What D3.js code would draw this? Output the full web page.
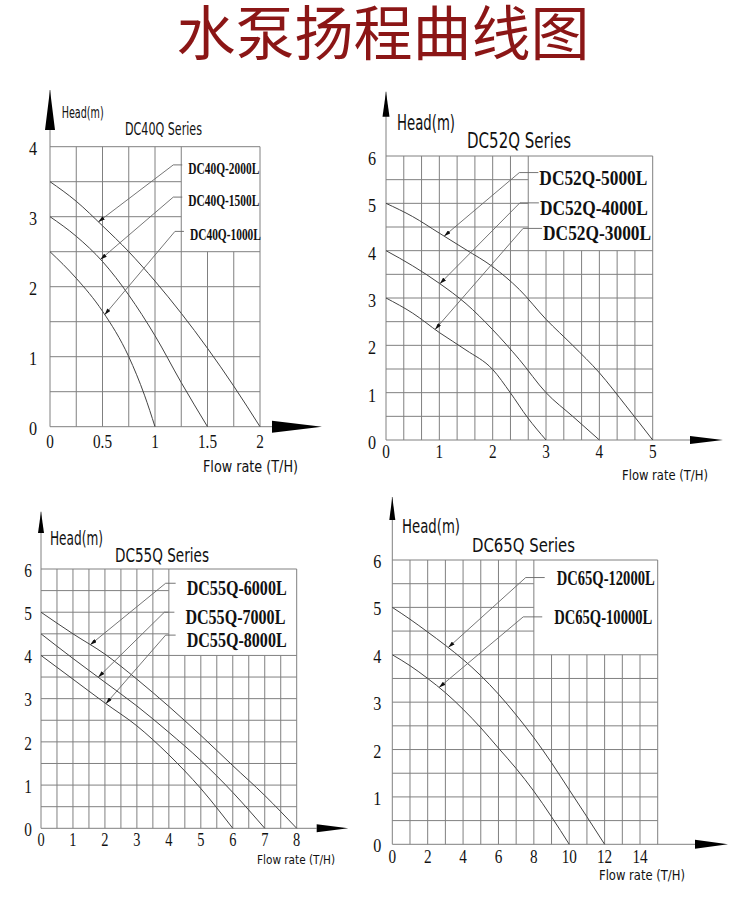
<!DOCTYPE html>
<html>
<head>
<meta charset="utf-8">
<script src="https://cdn.jsdelivr.net/npm/d3@7/dist/d3.min.js"></script>
<style>
  body { margin: 0; background: #fff; }
</style>
</head>
<body>
<div id="chart"></div>
<script>
// ---------- 数据 (流量 T/H, 扬程 m) ----------
const dc40Models = ['DC40Q-2000L', 'DC40Q-1500L', 'DC40Q-1000L']
const dc40q2000 = [[0, 3.5], [0.25, 3.22], [0.5, 2.87], [0.75, 2.5], [1, 2.08], [1.25, 1.62], [1.5, 1.12], [1.75, 0.58], [2, 0]]
const dc40q1500 = [[0, 3], [0.25, 2.72], [0.5, 2.36], [0.75, 1.88], [1, 1.3], [1.25, 0.63], [1.5, 0]]
const dc40q1000 = [[0, 2.5], [0.25, 2.12], [0.5, 1.65], [0.75, 1.0], [0.9, 0.45], [1, 0]]
const dc40XTicks = [0, 0.5, 1, 1.5, 2]
const dc40YTicks = [0, 1, 2, 3, 4]
const dc40PointAt = [0.46, 0.48, 0.52]
const dc40Elbows = [[1.174, 3.74], [1.174, 3.28], [1.19, 2.79]]

const dc52Models = ['DC52Q-5000L', 'DC52Q-4000L', 'DC52Q-3000L']
const dc52q5000 = [[0, 5], [0.5, 4.72], [1, 4.37], [1.5, 4.02], [2, 3.66], [2.5, 3.18], [3, 2.55], [3.5, 2.0], [4, 1.42], [4.5, 0.72], [5, 0]]
const dc52q4000 = [[0, 4], [0.5, 3.68], [1, 3.31], [1.5, 2.88], [2, 2.33], [2.5, 1.7], [3, 1.0], [3.5, 0.5], [4, 0]]
const dc52q3000 = [[0, 3], [0.5, 2.68], [1, 2.27], [1.5, 1.9], [2, 1.49], [2.33, 1.0], [2.65, 0.48], [3, 0]]
const dc52XTicks = [0, 1, 2, 3, 4, 5]
const dc52YTicks = [0, 1, 2, 3, 4, 5, 6]
const dc52PointAt = [1.09, 1.01, 0.92]
const dc52Elbows = [[2.5, 5.65], [2.51, 5.01], [2.57, 4.47]]

const dc55Models = ['DC55Q-6000L', 'DC55Q-7000L', 'DC55Q-8000L']
const dc55q8000 = [[0, 5], [1, 4.5], [2, 4.03], [3, 3.45], [4, 2.82], [5, 2.15], [6, 1.45], [7, 0.76], [8, 0]]
const dc55q7000 = [[0, 4.5], [1, 3.93], [2, 3.38], [3, 2.83], [4, 2.22], [5, 1.57], [6, 0.83], [7, 0]]
const dc55q6000 = [[0, 4], [1, 3.45], [2, 2.9], [3, 2.37], [4, 1.7], [5, 0.92], [6, 0]]
const dc55XTicks = [0, 1, 2, 3, 4, 5, 6, 7, 8]
const dc55YTicks = [0, 1, 2, 3, 4, 5, 6]
const dc55PointAt = [1.54, 1.79, 2.03]
const dc55Elbows = [[3.9, 5.67], [3.86, 5.0], [3.9, 4.47]]

const dc65Models = ['DC65Q-12000L', 'DC65Q-10000L']
const dc65q12000 = [[0, 5], [1, 4.75], [2, 4.48], [3, 4.2], [4, 3.9], [5, 3.56], [6, 3.17], [7, 2.73], [8, 2.25], [9, 1.72], [10, 1.15], [11, 0.58], [12, 0]]
const dc65q10000 = [[0, 4], [1, 3.77], [2, 3.5], [3, 3.2], [4, 2.85], [5, 2.46], [6, 2.03], [7, 1.6], [8, 1.12], [9, 0.58], [10, 0]]
const dc65XTicks = [0, 2, 4, 6, 8, 10, 12, 14]
const dc65YTicks = [0, 1, 2, 3, 4, 5, 6]
const dc65PointAt = [3.16, 2.64]
const dc65Elbows = [[7.54, 5.63], [7.4, 4.8]]

// ---------- 布局 ----------
const W = 750
const H = 918
const gridColor = '#808080'
const curveColor = '#444'
const serif = '"Liberation Serif", "Times New Roman", serif'
const narrow = '"Liberation Sans Narrow", "DejaVu Sans Condensed", "Liberation Sans", sans-serif'

const panels = [
  {
    series: 'DC40Q Series', models: dc40Models, curves: [dc40q2000, dc40q1500, dc40q1000],
    xTicks: dc40XTicks, yTicks: dc40YTicks, pointAt: dc40PointAt, elbows: dc40Elbows,
    left: 50, top: 146.7, width: 210, height: 280, xMax: 2, yMax: 4, xStep: 0.25, yStep: 0.5,
    box: { x: 1.25, y: 2.5 },
    head: { dx: 11.7, dy: -28.7, w: 42, size: 15 },
    title: { dx: 75, dy: -11.7, w: 77, size: 17 },
    flow: { x: 203, dy: 45, w: 95, size: 16 },
    yArrow: { tip: 90, base: 130, hw: 5 },
    xArrow: { x0: 272, x1: 322, hh: 6 },
    yTick: { dx: -17, dy: 8, size: 19 },
    xTick: { dy: 21.6, size: 19 },
    label: { size: 17, w: 71, dx: 15, dy: 9, hlen: 9 }
  },
  {
    series: 'DC52Q Series', models: dc52Models, curves: [dc52q5000, dc52q4000, dc52q3000],
    xTicks: dc52XTicks, yTicks: dc52YTicks, pointAt: dc52PointAt, elbows: dc52Elbows,
    left: 386, top: 156, width: 266.7, height: 284, xMax: 5, yMax: 6, xStep: 1 / 3, yStep: 0.5,
    box: { x: 8 / 3, y: 4 },
    head: { dx: 11, dy: -26, w: 58, size: 21 },
    title: { dx: 81, dy: -7.7, w: 104, size: 21 },
    flow: { x: 622, dy: 40, w: 86, size: 14 },
    yArrow: { tip: 91.7, base: 116.7, hw: 3.5 },
    xArrow: { x0: 690, x1: 723, hh: 4 },
    yTick: { dx: -14, dy: 9, size: 19 },
    xTick: { dy: 18, size: 19 },
    label: { size: 22, w: 108, dx: 20, dy: 12, hlen: 19 }
  },
  {
    series: 'DC55Q Series', models: dc55Models, curves: [dc55q8000, dc55q7000, dc55q6000],
    xTicks: dc55XTicks, yTicks: dc55YTicks, pointAt: dc55PointAt, elbows: dc55Elbows,
    left: 41, top: 569, width: 255.7, height: 259.3, xMax: 8, yMax: 6, xStep: 0.5, yStep: 0.5,
    box: { x: 4, y: 4 },
    head: { dx: 9, dy: -24, w: 53, size: 19 },
    title: { dx: 74, dy: -7.3, w: 94, size: 19 },
    flow: { x: 257, dy: 35.7, w: 78, size: 13 },
    yArrow: { tip: 511.7, base: 533, hw: 3 },
    xArrow: { x0: 316.7, x1: 348.3, hh: 4 },
    yTick: { dx: -13, dy: 7.7, size: 18 },
    xTick: { dy: 18, size: 18 },
    label: { size: 22, w: 100, dx: 21, dy: 12, hlen: 10 }
  },
  {
    series: 'DC65Q Series', models: dc65Models, curves: [dc65q12000, dc65q10000],
    xTicks: dc65XTicks, yTicks: dc65YTicks, pointAt: dc65PointAt, elbows: dc65Elbows,
    left: 392.3, top: 560, width: 265.4, height: 284.3, xMax: 15, yMax: 6, xStep: 1, yStep: 0.5,
    box: { x: 8, y: 4 },
    head: { dx: 9.7, dy: -26.7, w: 58, size: 20 },
    title: { dx: 79.7, dy: -8.3, w: 103, size: 20 },
    flow: { x: 599, dy: 35.7, w: 86, size: 14 },
    yArrow: { tip: 497, base: 520, hw: 3 },
    xArrow: { x0: 695, x1: 728, hh: 4.5 },
    yTick: { dx: -15, dy: 8, size: 19 },
    xTick: { dy: 19, size: 19 },
    label: { size: 20, w: 98, dx: 31, dy: 7.5, hlen: 19 }
  }
]

const svg = d3.select('#chart')
  .append('svg')
  .attr('width', W)
  .attr('height', H)

const defs = svg.append('defs')
defs.append('marker')
  .attr('id', 'tip')
  .attr('viewBox', '0 0 10 6')
  .attr('refX', 10)
  .attr('refY', 3)
  .attr('markerWidth', 7)
  .attr('markerHeight', 4)
  .attr('markerUnits', 'userSpaceOnUse')
  .attr('orient', 'auto')
  .append('path')
  .attr('d', 'M0,0 L10,3 L0,6 Z')
  .attr('fill', '#111')

// 大标题
svg.append('text')
  .attr('x', 383)
  .attr('y', 55)
  .attr('text-anchor', 'middle')
  .attr('font-family', '"Noto Sans CJK SC", sans-serif')
  .attr('font-size', 59)
  .attr('fill', '#8b1616')
  .text('水泵扬程曲线图')

// 文字横向压缩
function condense(sel, k) {
  sel.each(function () {
    const len = this.getComputedTextLength()
    d3.select(this).attr('textLength', len * k).attr('lengthAdjust', 'spacingAndGlyphs')
  })
}

// 沿曲线插值取扬程
function headAt(curve, q) {
  for (let i = 1; i < curve.length; i++) {
    const [x0, y0] = curve[i - 1]
    const [x1, y1] = curve[i]
    if (q <= x1) return y0 + (y1 - y0) * (q - x0) / (x1 - x0)
  }
  return curve[curve.length - 1][1]
}

panels.forEach(p => {
  const eps = 1e-6
  const x = d3.scaleLinear().domain([0, p.xMax]).range([0, p.width])
  const y = d3.scaleLinear().domain([0, p.yMax]).range([p.height, 0])
  const g = svg.append('g').attr('transform', `translate(${p.left},${p.top})`)

  // 网格 (标签区域留白)
  const xs = d3.range(1, Math.round(p.xMax / p.xStep) + 1).map(i => i * p.xStep)
  const ys = d3.range(1, Math.round(p.yMax / p.yStep) + 1).map(i => i * p.yStep)
  g.append('g').selectAll('line')
    .data(xs)
    .enter().append('line')
    .attr('x1', d => x(d)).attr('x2', d => x(d))
    .attr('y1', d => (d > p.box.x + eps && d < p.xMax - eps) ? y(p.box.y) : y(p.yMax))
    .attr('y2', y(0))
    .attr('stroke', gridColor)
    .attr('stroke-width', 1)
  g.append('g').selectAll('line')
    .data(ys)
    .enter().append('line')
    .attr('y1', d => y(d)).attr('y2', d => y(d))
    .attr('x1', 0)
    .attr('x2', d => (d > p.box.y + eps && d < p.yMax - eps) ? x(p.box.x) : x(p.xMax))
    .attr('stroke', gridColor)
    .attr('stroke-width', 1)

  // 坐标轴
  const yTip = p.yArrow.tip - p.top
  g.append('line')
    .attr('x1', 0).attr('x2', 0)
    .attr('y1', yTip).attr('y2', y(0))
    .attr('stroke', gridColor)
  g.append('line')
    .attr('x1', 0).attr('x2', p.xArrow.x0 - p.left)
    .attr('y1', y(0)).attr('y2', y(0))
    .attr('stroke', gridColor)
  g.append('path')
    .attr('d', `M${-p.yArrow.hw},${p.yArrow.base - p.top} L0,${yTip} L${p.yArrow.hw},${p.yArrow.base - p.top} Z`)
    .attr('fill', '#000')
  const ax0 = p.xArrow.x0 - p.left
  const ax1 = p.xArrow.x1 - p.left
  g.append('path')
    .attr('d', `M${ax0},${y(0) - p.xArrow.hh} L${ax1},${y(0)} L${ax0},${y(0) + p.xArrow.hh} Z`)
    .attr('fill', '#000')

  // 刻度文字
  g.append('g').selectAll('text')
    .data(p.yTicks)
    .enter().append('text')
    .attr('x', p.yTick.dx)
    .attr('y', d => y(d) + p.yTick.dy)
    .attr('text-anchor', 'middle')
    .attr('font-family', serif)
    .attr('font-size', p.yTick.size)
    .attr('fill', '#111')
    .text(d => d)
    .call(condense, 0.85)
  g.append('g').selectAll('text')
    .data(p.xTicks)
    .enter().append('text')
    .attr('x', d => x(d))
    .attr('y', y(0) + p.xTick.dy)
    .attr('text-anchor', 'middle')
    .attr('font-family', serif)
    .attr('font-size', p.xTick.size)
    .attr('fill', '#111')
    .text(d => d)
    .call(condense, 0.8)

  // 轴标题与系列名
  g.append('text')
    .attr('x', p.head.dx).attr('y', p.head.dy)
    .attr('font-family', narrow)
    .attr('font-size', p.head.size)
    .attr('fill', '#111')
    .attr('textLength', p.head.w).attr('lengthAdjust', 'spacingAndGlyphs')
    .text('Head(m)')
  g.append('text')
    .attr('x', p.title.dx).attr('y', p.title.dy)
    .attr('font-family', narrow)
    .attr('font-size', p.title.size)
    .attr('fill', '#111')
    .attr('textLength', p.title.w).attr('lengthAdjust', 'spacingAndGlyphs')
    .text(p.series)
  g.append('text')
    .attr('x', p.flow.x - p.left).attr('y', y(0) + p.flow.dy)
    .attr('font-family', narrow)
    .attr('font-size', p.flow.size)
    .attr('fill', '#111')
    .attr('textLength', p.flow.w).attr('lengthAdjust', 'spacingAndGlyphs')
    .text('Flow rate (T/H)')

  // 性能曲线
  const line = d3.line()
    .x(d => x(d[0]))
    .y(d => y(d[1]))
    .curve(d3.curveMonotoneX)
  g.append('g').selectAll('path')
    .data(p.curves)
    .enter().append('path')
    .attr('d', line)
    .attr('fill', 'none')
    .attr('stroke', curveColor)
    .attr('stroke-width', 1)

  // 型号引线与标签
  const leaders = p.models.map((name, i) => {
    const curve = p.curves[i]
    const q = p.pointAt[i]
    return {
      name,
      tip: [x(q), y(headAt(curve, q))],
      elbow: [x(p.elbows[i][0]), y(p.elbows[i][1])]
    }
  })
  const lg = g.append('g')
  lg.selectAll('polyline')
    .data(leaders)
    .enter().append('polyline')
    .attr('points', d => `${d.elbow[0] + p.label.hlen},${d.elbow[1]} ${d.elbow[0]},${d.elbow[1]} ${d.tip[0]},${d.tip[1]}`)
    .attr('fill', 'none')
    .attr('stroke', '#666')
    .attr('stroke-width', 0.9)
    .attr('marker-end', 'url(#tip)')
  lg.selectAll('text')
    .data(leaders)
    .enter().append('text')
    .attr('x', d => d.elbow[0] + p.label.dx)
    .attr('y', d => d.elbow[1] + p.label.dy)
    .attr('font-family', serif)
    .attr('font-weight', 'bold')
    .attr('font-size', p.label.size)
    .attr('fill', '#111')
    .attr('textLength', p.label.w).attr('lengthAdjust', 'spacingAndGlyphs')
    .text(d => d.name)
})
</script>
</body>
</html>
